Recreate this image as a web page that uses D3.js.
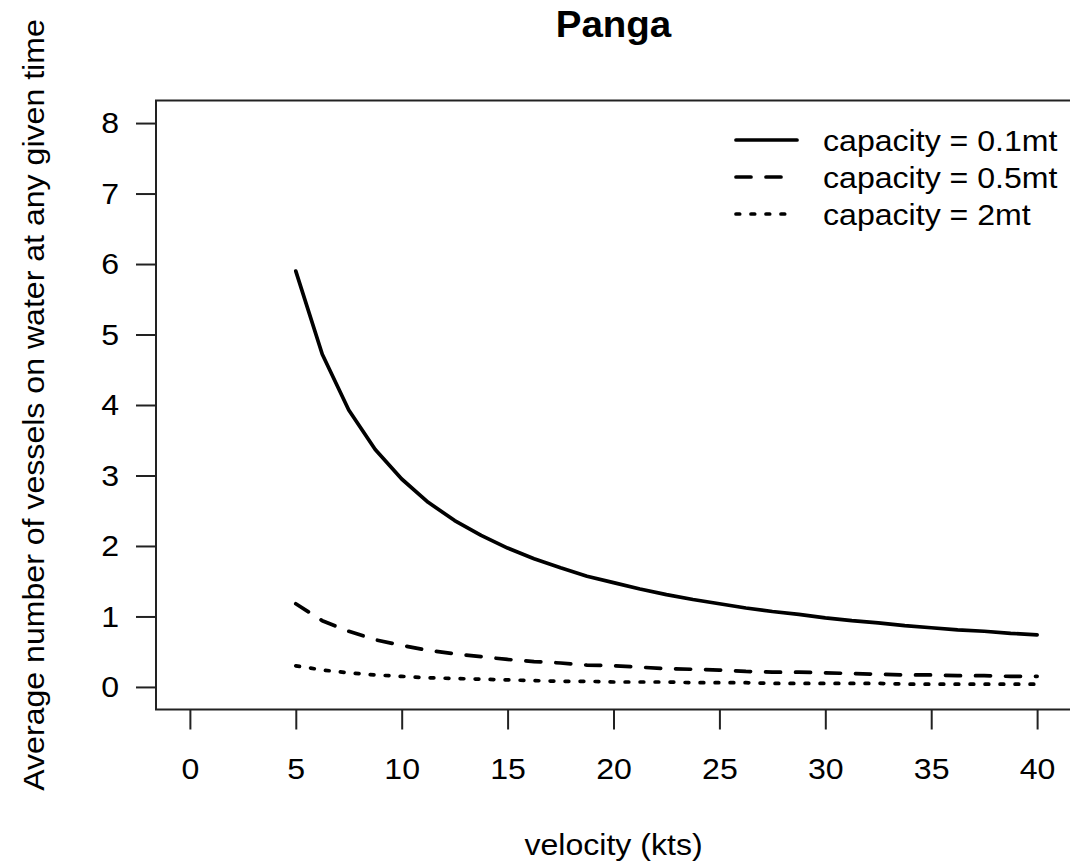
<!DOCTYPE html>
<html>
<head>
<meta charset="utf-8">
<script src="https://cdn.jsdelivr.net/npm/d3@7"></script>
<style>
  html, body { margin: 0; padding: 0; background: #fff; }
  svg text { font-family: "Liberation Sans", Arial, Helvetica, sans-serif; fill: #000; }
</style>
</head>
<body>
<svg id="chart" width="1070" height="863"></svg>
<script>
// Vessel speed (kts) at which the fleet size was evaluated
const velocity = [5, 6.25, 7.5, 8.75, 10, 11.25, 12.5, 13.75, 15, 16.25, 17.5, 18.75, 20,
  21.25, 22.5, 23.75, 25, 26.25, 27.5, 28.75, 30, 31.25, 32.5, 33.75, 35, 36.25, 37.5, 38.75, 40];

// Average number of vessels on water for each panga capacity
const cap01 = [5.90, 4.72, 3.93, 3.37, 2.95, 2.62, 2.36, 2.15, 1.97, 1.82, 1.69, 1.57, 1.48,
  1.39, 1.31, 1.24, 1.18, 1.12, 1.07, 1.03, 0.98, 0.94, 0.91, 0.87, 0.84, 0.81, 0.79, 0.76, 0.74];
const cap05 = [1.18, 0.94, 0.79, 0.67, 0.59, 0.52, 0.47, 0.43, 0.39, 0.36, 0.34, 0.31, 0.30,
  0.28, 0.26, 0.25, 0.24, 0.22, 0.21, 0.21, 0.20, 0.19, 0.18, 0.17, 0.17, 0.16, 0.16, 0.15, 0.15];
const cap2 = [0.30, 0.24, 0.20, 0.17, 0.15, 0.13, 0.12, 0.11, 0.10, 0.09, 0.08, 0.08, 0.07,
  0.07, 0.07, 0.06, 0.06, 0.06, 0.05, 0.05, 0.05, 0.05, 0.05, 0.04, 0.04, 0.04, 0.04, 0.04, 0.04];

const seriesLabels = ["capacity = 0.1mt", "capacity = 0.5mt", "capacity = 2mt"];
const xTicks = [0, 5, 10, 15, 20, 25, 30, 35, 40];
const yTicks = [0, 1, 2, 3, 4, 5, 6, 7, 8];

const lineW = 3.7;
const dashes = [null, "15,15", "3.7,11.3"];
const legendEnd = [797, 790, 788];
const fontSize = 30;
const wide = 1.07;           // stretch of text along its reading direction

const svg = d3.select("#chart");
const plot = { left: 156, right: 1071, top: 100.5, bottom: 709.5 };

// 4% padding on both ends of each axis range
const x = d3.scaleLinear().domain([-1.6, 41.6]).range([plot.left, plot.right]);
const y = d3.scaleLinear().domain([-0.32, 8.32]).range([plot.bottom, plot.top]);

// Curves
const series = [cap01, cap05, cap2];
const line = d3.line().x((d, i) => x(velocity[i])).y(d => y(d));
series.forEach((vals, k) => {
  svg.append("path")
    .datum(vals)
    .attr("d", line)
    .attr("fill", "none")
    .attr("stroke", "#000")
    .attr("stroke-width", lineW)
    .attr("stroke-linecap", "round")
    .attr("stroke-linejoin", "round")
    .attr("stroke-dasharray", dashes[k]);
});

// Plot frame
svg.append("rect")
  .attr("x", plot.left).attr("y", plot.top)
  .attr("width", plot.right - plot.left).attr("height", plot.bottom - plot.top)
  .attr("fill", "none").attr("stroke", "#222").attr("stroke-width", 2);

// Axes
const xAxis = svg.append("g")
  .attr("transform", `translate(0,${plot.bottom})`)
  .call(d3.axisBottom(x).tickValues(xTicks).tickSize(20).tickPadding(28.2).tickFormat(d3.format("d")));
const yAxis = svg.append("g")
  .attr("transform", `translate(${plot.left},0)`)
  .call(d3.axisLeft(y).tickValues(yTicks).tickSize(20).tickPadding(14.6).tickFormat(d3.format("d")));
[xAxis, yAxis].forEach(g => {
  g.select(".domain").remove();
  g.selectAll(".tick line").attr("stroke", "#222").attr("stroke-width", 2);
  g.selectAll(".tick text").attr("font-size", fontSize).attr("fill", "#000")
    .attr("transform", `scale(${wide},1)`)
    .style("font-family", '"Liberation Sans", Arial, Helvetica, sans-serif');
});

// Helper for stretched text, optionally rotated
function label(px, py, txt, size, anchor, weight, angle) {
  return svg.append("text")
    .attr("transform", `translate(${px},${py}) rotate(${angle || 0}) scale(${wide},1)`)
    .attr("text-anchor", anchor).attr("font-size", size)
    .attr("font-weight", weight || "normal")
    .text(txt);
}

// Titles
label((plot.left + plot.right) / 2, 37, "Panga", 36, "middle", "bold");
label((plot.left + plot.right) / 2, 855, "velocity (kts)", fontSize, "middle");
label(44, (plot.top + plot.bottom) / 2, "Average number of vessels on water at any given time",
  fontSize, "middle", "normal", -90);

// Legend
const legendRows = [140, 177, 214];
seriesLabels.forEach((lab, k) => {
  svg.append("line")
    .attr("x1", 736).attr("x2", legendEnd[k])
    .attr("y1", legendRows[k]).attr("y2", legendRows[k])
    .attr("stroke", "#000").attr("stroke-width", lineW)
    .attr("stroke-linecap", "round")
    .attr("stroke-dasharray", dashes[k]);
  label(823, legendRows[k] + 10.5, lab, fontSize, "start");
});
</script>
</body>
</html>
